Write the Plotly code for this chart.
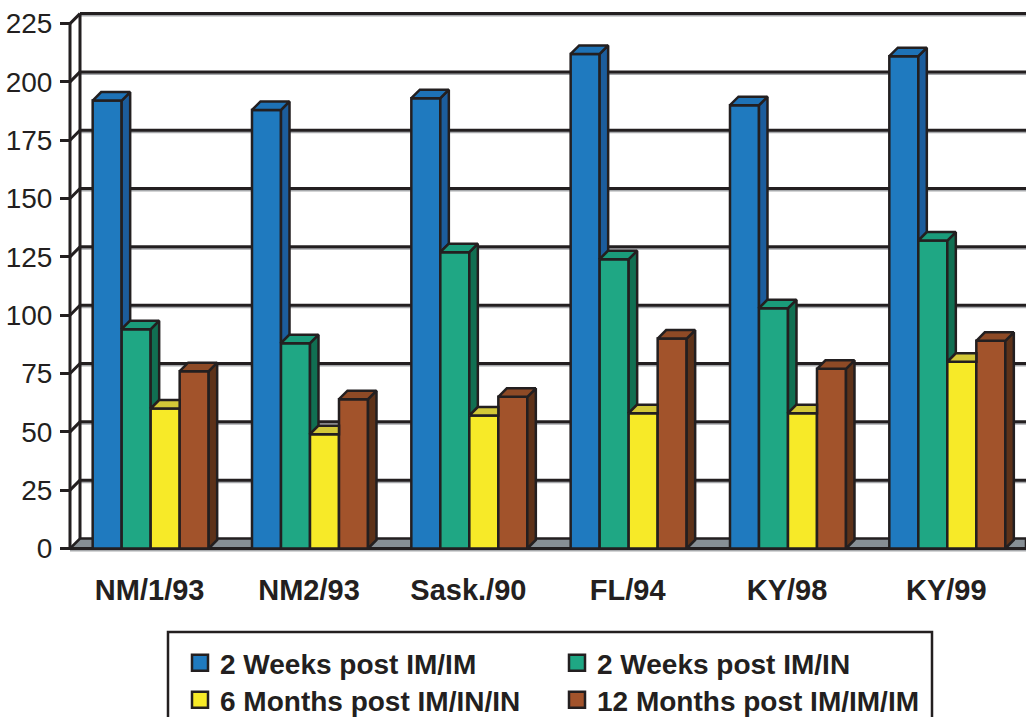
import plotly.graph_objects as go

# ---------------- data ----------------
categories = ["NM/1/93", "NM2/93", "Sask./90", "FL/94", "KY/98", "KY/99"]
series_names = ["2 Weeks post IM/IM", "2 Weeks post IM/IN",
                "6 Months post IM/IN/IN", "12 Months post IM/IM/IM"]
weeks2_im_im = [192, 188, 193, 212, 190, 211]
weeks2_im_in = [94, 88, 127, 124, 103, 132]
months6_im_in_in = [60, 49, 57, 58, 58, 80]
months12_im_im_im = [76, 64, 65, 90, 77, 89]
y_ticks = [0, 25, 50, 75, 100, 125, 150, 175, 200, 225]

series_values = [weeks2_im_im, weeks2_im_in, months6_im_in_in, months12_im_im_im]

# ---------------- styling ----------------
front_colors = ["#1f7abf", "#1fa784", "#f7ea28", "#a2532b"]
top_colors = ["#1e72b6", "#1a9b7a", "#d3c838", "#8e4a26"]
side_colors = ["#1c5d9c", "#116f52", "#b8ab22", "#5d3219"]
INK = "#231f20"
SHADOW = "#a7a9ac"
FLOOR = "#878f95"

W, H = 1026, 717
ML, MR, MT, MB = 66, 0, 8, 161
PW, PH = W - ML - MR, H - MT - MB
PX_X = 159.33          # pixels per category
PX_Y = 2.333           # pixels per value unit
X_FRONT = -0.5
x_lo = X_FRONT - 4 / PX_X
x_hi = x_lo + PW / PX_X
y_lo = -(PH + MT - 548.5) / PX_Y
y_hi = (548.5 - MT) / PX_Y

dxw, dyw = 10 / PX_X, 10 / PX_Y      # wall depth
dxb, dyb = 8.5 / PX_X, 8.5 / PX_Y    # bar depth
bw = 29 / PX_X
start = -57 / PX_X
offsets = [start + k * bw for k in range(4)]

fig = go.Figure()

# front faces as bars
legend_ids = ["legend", "legend2", "legend3", "legend4"]
for k, vals in enumerate(series_values):
    fig.add_trace(go.Bar(
        x=list(range(len(categories))), y=vals, name=series_names[k],
        width=bw, offset=offsets[k], legendgroup=series_names[k],
        marker=dict(color=front_colors[k], line=dict(color=INK, width=2.5)),
        showlegend=False, hoverinfo="skip"))

# side and top faces
for k, vals in enumerate(series_values):
    sx, sy, tx, ty = [], [], [], []
    for i, v in enumerate(vals):
        x0 = i + offsets[k]
        x1 = x0 + bw
        nxt = series_values[k + 1][i] if k < 3 else None
        if nxt is None or nxt < v:
            b = 0 if nxt is None else nxt
            sx += [x1, x1 + dxb, x1 + dxb, x1, x1, None]
            sy += [b, b + dyb, v + dyb, v, b, None]
        if nxt is not None and nxt > v:
            tx += [x0, x0 + dxb, x1, x1, x0, None]
        else:
            tx += [x0, x0 + dxb, x1 + dxb, x1, x0, None]
        ty += [v, v + dyb, v + dyb, v, v, None]
    if sx:
        fig.add_trace(go.Scatter(x=sx, y=sy, mode="lines", fill="toself",
                                 fillcolor=side_colors[k], legendgroup=series_names[k],
                                 line=dict(color=INK, width=2.5),
                                 showlegend=False, hoverinfo="skip"))
    fig.add_trace(go.Scatter(x=tx, y=ty, mode="lines", fill="toself",
                             fillcolor=top_colors[k], legendgroup=series_names[k],
                             line=dict(color=INK, width=2.5),
                             showlegend=False, hoverinfo="skip"))

# legend entries
for k in range(4):
    fig.add_trace(go.Scatter(
        x=[None], y=[None], mode="markers", name=series_names[k],
        legendgroup=series_names[k], legend=legend_ids[k],
        marker=dict(symbol="square", size=16, color=front_colors[k],
                    line=dict(color=INK, width=2.5))))

# ---------------- walls / floor ----------------
shapes = []
xb = X_FRONT + dxw
for v in y_ticks[1:]:
    shapes.append(dict(type="line", xref="x", yref="y", layer="below",
                       x0=xb, x1=x_hi, y0=v + dyw - 2 / PX_Y, y1=v + dyw - 2 / PX_Y,
                       line=dict(color=SHADOW, width=2)))
    shapes.append(dict(type="line", xref="x", yref="y", layer="below",
                       x0=xb, x1=x_hi, y0=v + dyw, y1=v + dyw,
                       line=dict(color=INK, width=3)))
    shapes.append(dict(type="line", xref="x", yref="y", layer="below",
                       x0=X_FRONT, x1=xb, y0=v, y1=v + dyw,
                       line=dict(color=INK, width=3)))
shapes.append(dict(type="path", xref="x", yref="y", layer="below",
                   path=f"M {X_FRONT},0 L {xb},{dyw} L {x_hi},{dyw} L {x_hi},0 Z",
                   fillcolor=FLOOR, line=dict(color=INK, width=2.5)))
shapes.append(dict(type="line", xref="x", yref="y", layer="below",
                   x0=X_FRONT, x1=x_hi, y0=-2 / PX_Y, y1=-2 / PX_Y,
                   line=dict(color=SHADOW, width=2)))
shapes.append(dict(type="line", xref="x", yref="y", layer="below",
                   x0=X_FRONT, x1=x_hi, y0=0, y1=0,
                   line=dict(color=INK, width=3)))
shapes.append(dict(type="line", xref="x", yref="y", layer="below",
                   x0=xb, x1=xb, y0=dyw, y1=y_ticks[-1] + dyw,
                   line=dict(color=INK, width=3)))
shapes.append(dict(type="line", xref="x", yref="y", layer="below",
                   x0=X_FRONT, x1=X_FRONT, y0=0, y1=y_ticks[-1],
                   line=dict(color=INK, width=3)))


def px_to_paper_x(p):
    return (p - ML) / PW


def px_to_paper_y(p):
    return (MT + PH - p) / PH


shapes.append(dict(type="rect", xref="paper", yref="paper",
                   x0=px_to_paper_x(168), x1=px_to_paper_x(932),
                   y0=px_to_paper_y(632), y1=px_to_paper_y(780),
                   line=dict(color=INK, width=2.5), fillcolor="rgba(0,0,0,0)"))

legend_font = dict(family="Liberation Sans, Arial", size=28, color=INK, weight="bold")
legend_pos = {"legend": (180, 638), "legend2": (557, 638),
              "legend3": (180, 675), "legend4": (557, 675)}
legend_layout = {
    lid: dict(x=px_to_paper_x(px), y=px_to_paper_y(py), xanchor="left",
              yanchor="top", bgcolor="rgba(0,0,0,0)", font=legend_font,
              orientation="v")
    for lid, (px, py) in legend_pos.items()
}

fig.update_layout(
    width=W, height=H,
    margin=dict(l=ML, r=MR, t=MT, b=MB, autoexpand=False),
    paper_bgcolor="white", plot_bgcolor="white",
    barmode="overlay",
    shapes=shapes,
    xaxis=dict(range=[x_lo, x_hi], tickmode="array",
               tickvals=list(range(len(categories))), ticktext=categories,
               showgrid=False, zeroline=False, showline=False, ticks="",
               ticklabelstandoff=14,
               tickfont=dict(family="Liberation Sans, Arial", size=29,
                             color=INK, weight="bold")),
    yaxis=dict(range=[y_lo, y_hi], tickmode="array", tickvals=y_ticks,
               showgrid=False, zeroline=False, showline=False,
               anchor="free", position=4 / PW,
               ticks="outside", ticklen=10, tickwidth=3, tickcolor=INK,
               ticklabelstandoff=2,
               tickfont=dict(family="Liberation Sans, Arial", size=28, color=INK)),
    showlegend=True,
    **legend_layout,
)

fig.write_html("out.html",
               config={"displayModeBar": False},
               post_script="document.body.style.margin='0';"
                           "document.body.style.overflow='hidden';")
